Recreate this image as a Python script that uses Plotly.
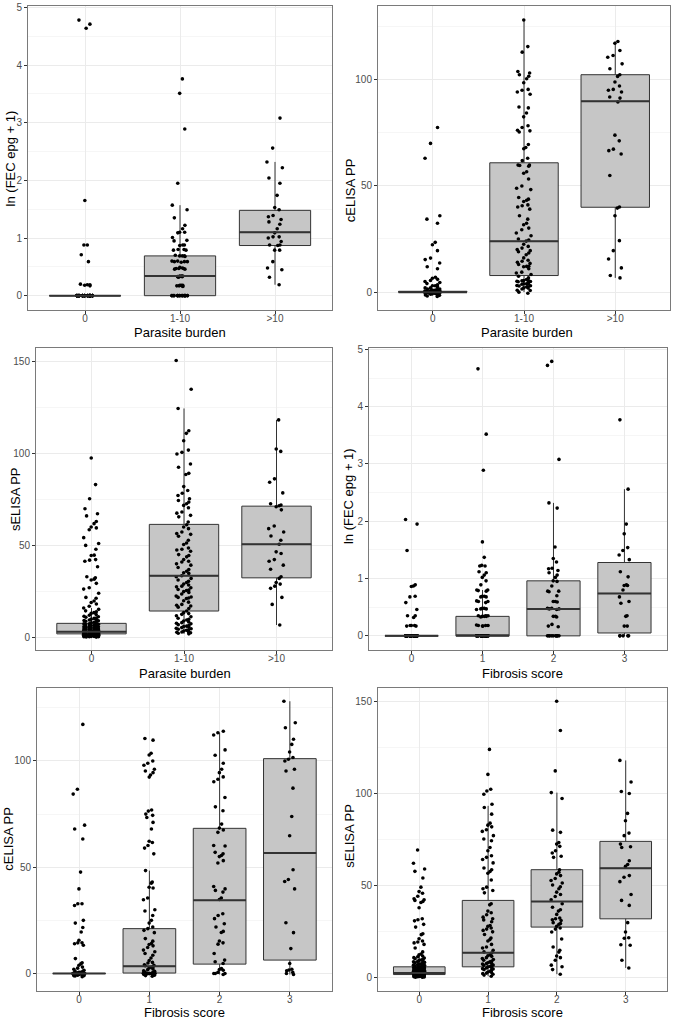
import plotly.graph_objects as go

W, H = 675, 1019

pb_labels = ["0", "1-10", ">10"]
fib_labels = ["0", "1", "2", "3"]

# ---------- Panel 1: ln(FEC epg + 1) by parasite burden ----------
fec_pb_0 = [4.78, 4.71, 4.64, 1.65, 0.88, 0.88, 0.71, 0.59, 0.20, 0.19, 0.19, 0.18, 0.17,
            0, 0, 0, 0, 0, 0, 0, 0, 0, 0, 0, 0, 0, 0, 0, 0, 0, 0, 0, 0, 0, 0, 0, 0, 0,
            0, 0, 0, 0, 0, 0, 0, 0, 0, 0, 0, 0, 0, 0, 0, 0, 0, 0, 0, 0]
fec_pb_1_10 = [3.76, 3.51, 2.89, 1.95, 1.57, 1.49, 1.35, 1.22, 1.16, 1.10, 1.10, 1.09, 1.01,
               0.96, 0.95, 0.88, 0.88, 0.87, 0.80, 0.80, 0.79, 0.79, 0.70, 0.69, 0.69, 0.69,
               0.68, 0.60, 0.60, 0.59, 0.59, 0.59, 0.58, 0.49, 0.48, 0.47, 0.47, 0.47, 0.46,
               0.46, 0.34, 0.34, 0.34, 0.33, 0.33, 0.33, 0.32, 0.18, 0.18, 0.18, 0.17, 0.17,
               0.17, 0.16, 0, 0, 0, 0, 0, 0, 0, 0, 0, 0, 0, 0, 0, 0, 0, 0, 0, 0]
fec_pb_gt10 = [3.08, 2.56, 2.32, 2.22, 2.04, 1.95, 1.74, 1.53, 1.49, 1.39, 1.37, 1.32, 1.28,
               1.24, 1.16, 1.09, 1.02, 1.02, 1.00, 0.94, 0.88, 0.88, 0.87, 0.79, 0.79, 0.59,
               0.48, 0.45, 0.32, 0.19]
fec_pb_q1 = [0, 0, 0.87]
fec_pb_med = [0, 0.34, 1.10]
fec_pb_q3 = [0, 0.69, 1.48]
fec_pb_lo = [0, 0, 0.19]
fec_pb_hi = [0, 1.57, 2.32]

# ---------- Panel 2: cELISA PP by parasite burden ----------
cel_pb_0 = [77.4, 69.9, 62.9, 35.9, 34.3, 32.4, 23.4, 22.3, 19.5, 16.0, 15.3, 13.7, 11.9,
            11.0, 7.0, 6.5, 6.0, 5.5, 5.0, 4.5, 4.0, 3.5, 3.0, 3.0, 2.5, 2.0, 2.0, 1.5, 1.5,
            1.2, 1.0, 1.0, 0.8, 0.6, 0.5, 0.5, 0.4, 0.3, 0.2, 0.1,
            0, 0, 0, 0, 0, 0, 0, 0, 0, 0, 0, 0, 0, 0, 0, 0, 0, 0, 0, 0, 0, 0, 0, 0, 0,
            0, 0, 0, 0, 0, 0, 0, 0, 0, 0,
            -0.2, -0.4, -0.5, -0.6, -0.8, -1.0, -1.0, -1.3, -1.5, -1.8, -2.0]
cel_pb_1_10 = [127.9, 115.4, 112.8, 103.7, 103.0, 102.2, 101.5, 100.3, 98.4, 95.3, 94.9, 94.1,
               93.0, 87.0, 86.6, 84.2, 82.4, 78.2, 77.4, 76.1, 75.8, 75.3, 69.4, 68.0, 67.4,
               62.9, 61.8, 59.7, 59.7, 59.5, 59.2, 56.6, 55.9, 53.2, 49.9, 48.8, 48.2, 44.5,
               43.7, 43.2, 42.6, 41.0, 40.6, 40.0, 39.0, 35.9, 34.3, 32.4, 31.7, 30.1, 29.3,
               27.8, 26.5, 25.0, 24.5, 24.0, 22.5, 21.5, 20.7, 20.0, 19.5, 19.0, 18.4, 17.6,
               16.1, 15.0, 14.5, 14.0, 13.5, 13.0, 12.2, 12.1, 11.9, 11.0, 9.4, 9.0, 8.3, 7.5,
               6.7, 5.9, 5.5, 5.4, 5.3, 5.1, 5.0, 4.9, 4.5, 3.9, 3.9, 3.8, 3.7, 3.1, 3.0, 2.9,
               2.5, 2.4, 2.0, 1.9, 1.5, 0.9, 0.8, 0.0, -0.5]
cel_pb_gt10 = [117.8, 117.0, 113.6, 111.2, 110.4, 107.3, 105.0, 102.2, 101.4, 98.8, 96.9, 95.3,
               94.9, 94.1, 91.7, 91.2, 89.4, 73.8, 71.1, 67.2, 66.5, 64.9, 54.8, 40.0, 39.5,
               35.9, 24.2, 19.5, 15.6, 11.4, 7.8, 6.7]
cel_pb_q1 = [0, 7.8, 39.9]
cel_pb_med = [0, 23.9, 89.7]
cel_pb_q3 = [0.4, 60.8, 102.2]
cel_pb_lo = [0, 0, 6.7]
cel_pb_hi = [0.8, 127.9, 117.8]

# ---------- Panel 3: sELISA PP by parasite burden ----------
sel_pb_0 = [97.4, 83.0, 75.3, 69.9, 67.2, 66.0, 63.0, 61.8, 60.0, 59.5, 58.5, 54.2, 51.0,
            50.0, 47.9, 44.7, 44.5, 42.3, 42.0, 41.4, 38.4, 33.0, 32.4, 31.7, 31.2, 29.4,
            27.0, 26.3, 24.0, 21.8, 21.3, 19.8, 19.0, 18.2, 17.0, 16.0, 15.3, 14.5, 14.0,
            13.5, 13.1, 12.5, 12.1, 11.6, 11.3, 11.0, 10.6, 10.4, 10.0, 9.8, 9.5, 9.2, 9.1,
            8.8, 8.4, 8.3, 8.0, 7.9, 7.5, 7.4, 7.2, 7.0, 6.8, 6.6, 6.5, 6.2, 6.1, 5.9, 5.8,
            5.6, 5.4, 5.3, 5.2, 5.0, 4.9, 4.7, 4.6, 4.5, 4.3, 4.1, 4.0, 3.9, 3.8, 3.7, 3.6,
            3.5, 3.4, 3.3, 3.2, 3.1, 3.0, 3.0, 2.9, 2.8, 2.7, 2.6, 2.5, 2.5, 2.4, 2.3, 2.2,
            2.2, 2.1, 2.0, 2.0, 1.9, 1.8, 1.8, 1.7, 1.6, 1.6, 1.5, 1.5, 1.4, 1.3, 1.3, 1.2,
            1.1, 1.1, 1.0, 1.0, 0.9, 0.9, 0.8, 0.8, 0.7, 0.7, 0.6, 0.6, 0.5, 0.5, 0.4, 0.4,
            0.3, 0.3]
sel_pb_1_10 = [150.3, 134.7, 124.3, 112.2, 110.8, 106.8, 101.7, 100.5, 99.6, 94.2, 92.4, 89.1,
               88.5, 81.9, 79.8, 78.3, 77.1, 75.3, 74.4, 73.5, 72.6, 71.7, 70.4, 68.1, 67.5,
               66.3, 65.5, 62.7, 61.2, 60.0, 59.1, 57.3, 56.4, 56.0, 55.0, 52.8, 51.3, 50.5,
               48.6, 47.9, 47.5, 46.8, 45.0, 44.5, 43.8, 42.3, 41.4, 41.0, 40.0, 39.3, 38.0,
               36.9, 36.0, 35.1, 34.8, 33.5, 33.0, 32.1, 31.2, 30.5, 29.9, 29.0, 28.5, 27.9,
               27.5, 27.0, 26.1, 25.8, 25.5, 24.9, 24.5, 23.6, 22.5, 22.0, 21.8, 21.5, 21.2,
               20.0, 19.2, 18.0, 17.5, 17.1, 16.5, 15.8, 14.4, 13.5, 13.0, 12.6, 11.8, 11.3,
               10.5, 9.9, 9.5, 9.0, 8.5, 8.1, 7.8, 7.5, 7.0, 6.5, 6.2, 6.0, 5.7, 5.4, 5.0, 4.8,
               4.5, 4.2, 4.0, 3.5, 3.2, 3.0, 2.9, 2.6, 2.3, 2.0]
sel_pb_gt10 = [118.1, 102.3, 101.0, 86.1, 84.3, 78.5, 72.6, 71.9, 71.5, 71.0, 69.3, 60.5, 59.1,
               57.3, 55.1, 52.8, 50.6, 46.5, 45.6, 42.3, 41.4, 39.3, 37.1, 33.0, 32.1, 29.9,
               29.0, 27.9, 26.7, 21.8, 18.0, 6.8]
sel_pb_q1 = [2.0, 14.4, 32.4]
sel_pb_med = [3.2, 33.5, 50.6]
sel_pb_q3 = [7.7, 61.4, 71.3]
sel_pb_lo = [0.3, 2.0, 6.8]
sel_pb_hi = [16.0, 124.3, 118.1]

# ---------- Panel 4: ln(FEC epg + 1) by fibrosis score ----------
fec_fib_0 = [2.03, 1.95, 1.49, 0.89, 0.87, 0.86, 0.69, 0.68, 0.58, 0.46, 0.35, 0.35, 0.32,
             0.18, 0.18, 0.18, 0.17, 0.17,
             0, 0, 0, 0, 0, 0, 0, 0, 0, 0, 0, 0, 0, 0, 0, 0, 0, 0, 0, 0, 0, 0, 0, 0, 0,
             0, 0, 0, 0, 0, 0, 0, 0, 0, 0, 0, 0, 0, 0, 0, 0, 0]
fec_fib_1 = [4.66, 3.52, 2.89, 1.64, 1.37, 1.23, 1.22, 1.22, 1.12, 1.10, 1.06, 1.02, 0.96,
             0.89, 0.80, 0.80, 0.79, 0.78, 0.69, 0.69, 0.68, 0.68, 0.61, 0.60, 0.60, 0.58,
             0.48, 0.48, 0.47, 0.47, 0.46, 0.35, 0.35, 0.35, 0.34, 0.34, 0.34, 0.33, 0.19,
             0.18, 0.18, 0.18, 0.17, 0.17,
             0, 0, 0, 0, 0, 0, 0, 0, 0, 0, 0, 0, 0, 0, 0, 0, 0, 0, 0, 0, 0, 0, 0, 0, 0, 0,
             0, 0, 0, 0]
fec_fib_2 = [4.79, 4.72, 3.08, 2.32, 2.23, 1.55, 1.35, 1.29, 1.18, 1.17, 1.14, 1.10, 1.06,
             1.02, 0.96, 0.95, 0.87, 0.78, 0.78, 0.77, 0.70, 0.60, 0.60, 0.59, 0.48, 0.48,
             0.47, 0.47, 0.46, 0.34, 0.34, 0.33, 0.20, 0.17, 0.16,
             0, 0, 0, 0, 0, 0, 0, 0, 0, 0]
fec_fib_3 = [3.77, 2.56, 1.95, 1.78, 1.54, 1.49, 1.41, 1.33, 1.12, 1.03, 0.89, 0.88, 0.88,
             0.80, 0.68, 0.60, 0.57, 0.35, 0.34, 0.17, 0.17, 0, 0, 0, 0, 0]
fec_fib_q1 = [0, 0, 0, 0.05]
fec_fib_med = [0, 0, 0.47, 0.74]
fec_fib_q3 = [0, 0.34, 0.96, 1.28]
fec_fib_lo = [0, 0, 0, 0]
fec_fib_hi = [0, 0.80, 2.32, 2.56]

# ---------- Panel 5: cELISA PP by fibrosis score ----------
cel_fib_0 = [117.2, 86.7, 84.4, 69.8, 68.0, 63.3, 47.7, 39.8, 32.8, 32.8, 32.0, 25.0, 23.7,
             21.6, 19.5, 15.6, 14.4, 14.4, 14.0, 13.3, 7.0, 5.0, 4.5, 3.9, 3.0, 2.5, 2.0,
             1.5, 1.0, 1.0, 0.5, 0.5, 0.3, 0.2,
             0, 0, 0, 0, 0, 0, 0, 0, 0, 0, 0, 0, 0, 0, 0, 0, 0, 0, 0, 0, 0, 0, 0, 0, 0,
             0, 0, 0, 0, 0, 0, 0, 0, 0, 0, 0,
             -0.3, -0.5, -0.5, -0.8, -1.0, -1.0, -1.2, -1.5]
cel_fib_1 = [110.6, 109.8, 103.6, 102.8, 100.0, 98.9, 98.0, 96.1, 95.3, 94.5, 93.4, 92.4,
             76.9, 76.4, 75.0, 74.4, 73.4, 71.1, 68.0, 62.2, 61.6, 60.2, 59.0, 56.3, 48.4,
             43.0, 42.5, 40.6, 40.2, 35.5, 34.7, 30.0, 29.4, 27.3, 25.0, 23.7, 21.9, 21.1,
             20.3, 19.2, 16.4, 15.2, 14.1, 13.6, 13.0, 12.2, 11.0, 10.2, 9.4, 8.6, 7.3, 6.1,
             5.2, 4.9, 4.1, 3.9, 3.6, 3.1, 2.9, 2.6, 2.1, 1.8, 1.2, 1.0, 0.7, 0.5,
             0, 0, 0, 0, 0, 0, 0, 0, 0, 0, 0, 0, 0, 0, 0, 0, 0, 0, 0, 0,
             -0.5, -0.8, -1.0, -1.3]
cel_fib_2 = [114.0, 113.3, 112.2, 105.2, 102.7, 98.9, 96.1, 94.5, 92.5, 91.4, 90.2, 82.8,
             78.4, 76.6, 70.3, 68.4, 67.5, 66.4, 60.2, 60.0, 57.0, 56.3, 55.5, 55.0, 53.1,
             52.0, 40.9, 39.8, 39.1, 38.3, 35.5, 34.8, 28.1, 27.3, 25.8, 23.4, 21.9, 19.8,
             19.3, 15.3, 14.4, 13.8, 9.4, 6.3, 5.5, 4.7, 2.3, 1.9, 1.5, 0.5, 0.0, 0.0, 0.0,
             -0.5]
cel_fib_3 = [128.1, 118.0, 115.6, 110.2, 107.8, 104.2, 101.6, 100.8, 100.0, 96.1, 95.3, 87.2,
             73.9, 64.8, 48.8, 44.2, 43.3, 39.8, 23.9, 19.2, 11.7, 4.7, 2.0, 1.6, 1.3, 0.5,
             0.0, -0.5]
cel_fib_q1 = [0, 0.2, 4.4, 6.3]
cel_fib_med = [0, 3.4, 34.4, 56.7]
cel_fib_q3 = [0, 21.1, 68.3, 101.1]
cel_fib_lo = [0, 0, -0.5, -0.5]
cel_fib_hi = [0, 48.4, 113.3, 128.1]

# ---------- Panel 6: sELISA PP by fibrosis score ----------
sel_fib_0 = [69.5, 62.3, 59.2, 57.9, 54.3, 49.3, 46.9, 46.0, 44.4, 43.0, 42.5, 42.1, 41.5,
             41.0, 38.1, 32.1, 31.6, 31.0, 29.1, 27.6, 24.0, 23.5, 21.3, 20.0, 19.5, 19.0,
             18.2, 16.2, 14.1, 13.0, 12.5, 11.9, 11.5, 11.0, 10.8, 10.4, 10.1, 9.7, 9.5, 9.2,
             8.9, 8.7, 8.4, 8.2, 7.9, 7.7, 7.5, 7.3, 7.1, 6.9, 6.7, 6.5, 6.3, 6.2, 6.0, 5.8,
             5.7, 5.5, 5.3, 5.2, 5.0, 4.9, 4.7, 4.6, 4.5, 4.3, 4.2, 4.1, 4.0, 3.9, 3.8, 3.7,
             3.6, 3.5, 3.4, 3.3, 3.2, 3.1, 3.0, 2.9, 2.8, 2.8, 2.7, 2.6, 2.5, 2.5, 2.4, 2.3,
             2.2, 2.2, 2.1, 2.0, 2.0, 1.9, 1.8, 1.8, 1.7, 1.6, 1.6, 1.5, 1.4, 1.4, 1.3, 1.2,
             1.2, 1.1, 1.0, 1.0, 0.9, 0.8, 0.8, 0.7, 0.6, 0.6, 0.5, 0.4, 0.3]
sel_fib_1 = [124.2, 110.6, 102.5, 101.6, 99.8, 94.4, 92.6, 89.0, 84.1, 83.0, 82.1, 80.5, 79.6,
             77.3, 75.5, 74.5, 70.9, 69.1, 66.4, 65.5, 64.3, 62.5, 59.7, 58.8, 57.8, 56.9,
             53.2, 49.3, 48.4, 47.5, 46.2, 40.3, 39.7, 36.3, 35.4, 34.3, 33.0, 32.1, 31.5,
             30.5, 28.5, 28.0, 27.1, 26.5, 25.8, 25.0, 23.6, 21.7, 20.8, 20.0, 18.2, 16.8,
             16.2, 15.0, 14.1, 13.5, 12.6, 12.0, 11.7, 11.0, 10.5, 10.0, 9.6, 9.0, 8.7, 8.2,
             8.0, 7.8, 7.5, 7.0, 6.8, 6.5, 6.2, 6.0, 5.7, 5.4, 5.0, 4.8, 4.5, 4.0, 3.6, 3.2,
             3.0, 2.6, 2.3, 2.0, 1.5, 0.9]
sel_fib_2 = [150.4, 134.5, 112.5, 100.7, 97.5, 80.3, 79.1, 73.6, 72.7, 71.5, 69.1, 67.9, 66.1,
             65.5, 58.8, 57.4, 56.5, 55.6, 54.0, 52.9, 51.6, 50.5, 49.5, 48.4, 46.6, 45.3,
             44.2, 42.5, 40.3, 38.4, 37.0, 36.3, 34.5, 32.5, 32.1, 31.6, 31.2, 30.0, 29.5,
             29.1, 28.0, 27.1, 26.5, 24.9, 21.1, 16.8, 15.0, 14.0, 11.9, 11.0, 9.6, 6.9, 6.0,
             4.5, 2.0]
sel_fib_3 = [118.2, 106.5, 101.3, 100.2, 89.4, 85.4, 78.7, 77.3, 72.7, 71.3, 70.9, 63.7, 61.6,
             60.6, 55.6, 54.7, 52.3, 45.3, 42.1, 39.4, 30.0, 24.9, 21.8, 21.5, 18.0, 17.7,
             9.6, 5.4]
sel_fib_q1 = [1.8, 6.0, 27.6, 32.1]
sel_fib_med = [2.7, 13.7, 41.5, 59.6]
sel_fib_q3 = [6.0, 42.1, 58.8, 74.2]
sel_fib_lo = [0.3, 0.9, 2.0, 5.4]
sel_fib_hi = [12.0, 93.5, 100.7, 118.2]

# ---------- layout description ----------
panels = [
    dict(groups=[fec_pb_0, fec_pb_1_10, fec_pb_gt10], labels=pb_labels,
         q1=fec_pb_q1, med=fec_pb_med, q3=fec_pb_q3, lo=fec_pb_lo, hi=fec_pb_hi,
         ytitle="ln (FEC epg + 1)", xtitle="Parasite burden",
         box=(28, 332, 2, 307), yrange=[-0.245, 5.025], dtick=1,
         ytpos=(10, 155), xtpos=(180, 330)),
    dict(groups=[cel_pb_0, cel_pb_1_10, cel_pb_gt10], labels=pb_labels,
         q1=cel_pb_q1, med=cel_pb_med, q3=cel_pb_q3, lo=cel_pb_lo, hi=cel_pb_hi,
         ytitle="cELISA PP", xtitle="Parasite burden",
         box=(378, 670, 2, 307), yrange=[-8.3, 134.5], dtick=50,
         ytpos=(350, 187), xtpos=(527, 330)),
    dict(groups=[sel_pb_0, sel_pb_1_10, sel_pb_gt10], labels=pb_labels,
         q1=sel_pb_q1, med=sel_pb_med, q3=sel_pb_q3, lo=sel_pb_lo, hi=sel_pb_hi,
         ytitle="sELISA PP", xtitle="Parasite burden",
         box=(36, 332, 345, 649), yrange=[-7.0, 157.3], dtick=50,
         ytpos=(15, 497), xtpos=(185, 672)),
    dict(groups=[fec_fib_0, fec_fib_1, fec_fib_2, fec_fib_3], labels=fib_labels,
         q1=fec_fib_q1, med=fec_fib_med, q3=fec_fib_q3, lo=fec_fib_lo, hi=fec_fib_hi,
         ytitle="ln (FEC epg + 1)", xtitle="Fibrosis score",
         box=(369, 667, 345, 649), yrange=[-0.255, 5.03], dtick=1,
         ytpos=(348, 494), xtpos=(522, 672)),
    dict(groups=[cel_fib_0, cel_fib_1, cel_fib_2, cel_fib_3], labels=fib_labels,
         q1=cel_fib_q1, med=cel_fib_med, q3=cel_fib_q3, lo=cel_fib_lo, hi=cel_fib_hi,
         ytitle="cELISA PP", xtitle="Fibrosis score",
         box=(37, 332, 687, 991), yrange=[-8.3, 134.2], dtick=50,
         ytpos=(9, 838), xtpos=(184, 1012)),
    dict(groups=[sel_fib_0, sel_fib_1, sel_fib_2, sel_fib_3], labels=fib_labels,
         q1=sel_fib_q1, med=sel_fib_med, q3=sel_fib_q3, lo=sel_fib_lo, hi=sel_fib_hi,
         ytitle="sELISA PP", xtitle="Fibrosis score",
         box=(378, 667, 687, 991), yrange=[-7.2, 157.4], dtick=50,
         ytpos=(350, 835), xtpos=(522, 1012)),
]

FONT = "Liberation Sans, Arial, sans-serif"
BOX_W = 0.75
JIT_W = 0.2

fig = go.Figure()
annotations = []

for k, p in enumerate(panels, start=1):
    xa = "x" if k == 1 else f"x{k}"
    ya = "y" if k == 1 else f"y{k}"
    n = len(p["labels"])
    pos = list(range(n))

    # boxes from summary statistics
    fig.add_trace(go.Box(
        x=pos, q1=p["q1"], median=p["med"], q3=p["q3"],
        lowerfence=p["lo"], upperfence=p["hi"], orientation="v",
        width=BOX_W, fillcolor="#c6c6c6", whiskerwidth=0,
        line=dict(color="#333333", width=1), boxpoints=False,
        xaxis=xa, yaxis=ya, hoverinfo="skip", showlegend=False))

    # thicker median segments (as in ggplot)
    mx, my = [], []
    for i in pos:
        mx += [i - BOX_W / 2, i + BOX_W / 2, None]
        my += [p["med"][i], p["med"][i], None]
    fig.add_trace(go.Scatter(x=mx, y=my, mode="lines",
                             line=dict(color="#333333", width=2),
                             xaxis=xa, yaxis=ya, hoverinfo="skip", showlegend=False))

    # jittered points (plotly's own jitter), in small sorted chunks so spread is even
    for i, vals in enumerate(p["groups"]):
        s = sorted(vals)
        for c in range(0, len(s), 8):
            chunk = s[c:c + 8]
            fig.add_trace(go.Box(
                y=chunk, x0=i, orientation="v", width=JIT_W,
                boxpoints="all", jitter=1, pointpos=0,
                fillcolor="rgba(0,0,0,0)", line=dict(color="rgba(0,0,0,0)", width=0),
                marker=dict(color="black", size=3.6),
                xaxis=xa, yaxis=ya, hoverinfo="skip", showlegend=False))

    L, R, T, B = p["box"]
    axis_common = dict(showline=True, mirror=True, linecolor="#7a7a7a", linewidth=1,
                       ticks="outside", ticklen=3, tickcolor="#333333", tickwidth=0.8,
                       tickfont=dict(family=FONT, size=10, color="#4d4d4d"),
                       gridcolor="#ebebeb", gridwidth=1, zeroline=False)
    fig.update_layout(**{
        ("xaxis" if k == 1 else f"xaxis{k}"): dict(
            domain=[L / W, R / W], anchor=ya, range=[-0.6, n - 0.4],
            tickmode="array", tickvals=pos, ticktext=p["labels"], showgrid=True,
            ticklabelstandoff=-4, **axis_common),
        ("yaxis" if k == 1 else f"yaxis{k}"): dict(
            domain=[1 - B / H, 1 - T / H], anchor=xa, range=p["yrange"],
            tick0=0, dtick=p["dtick"], showgrid=True,
            minor=dict(dtick=p["dtick"] / 2, tick0=0, showgrid=True,
                       gridcolor="#f6f6f6", gridwidth=0.8, ticks=""),
            **axis_common),
    })

    annotations.append(dict(text=p["ytitle"], xref="paper", yref="paper",
                            x=p["ytpos"][0] / W, y=1 - p["ytpos"][1] / H,
                            xanchor="center", yanchor="middle", textangle=-90,
                            showarrow=False, font=dict(family=FONT, size=13, color="black")))
    annotations.append(dict(text=p["xtitle"], xref="paper", yref="paper",
                            x=p["xtpos"][0] / W, y=1 - p["xtpos"][1] / H,
                            xanchor="center", yanchor="middle",
                            showarrow=False, font=dict(family=FONT, size=13, color="black")))

fig.update_layout(width=W, height=H, margin=dict(l=0, r=0, t=0, b=0),
                  paper_bgcolor="white", plot_bgcolor="white",
                  boxmode="overlay", showlegend=False, annotations=annotations,
                  font=dict(family=FONT))

fig.write_html("out.html", config={"displayModeBar": False},
               post_script="document.body.style.margin='0';document.body.style.padding='0';")
